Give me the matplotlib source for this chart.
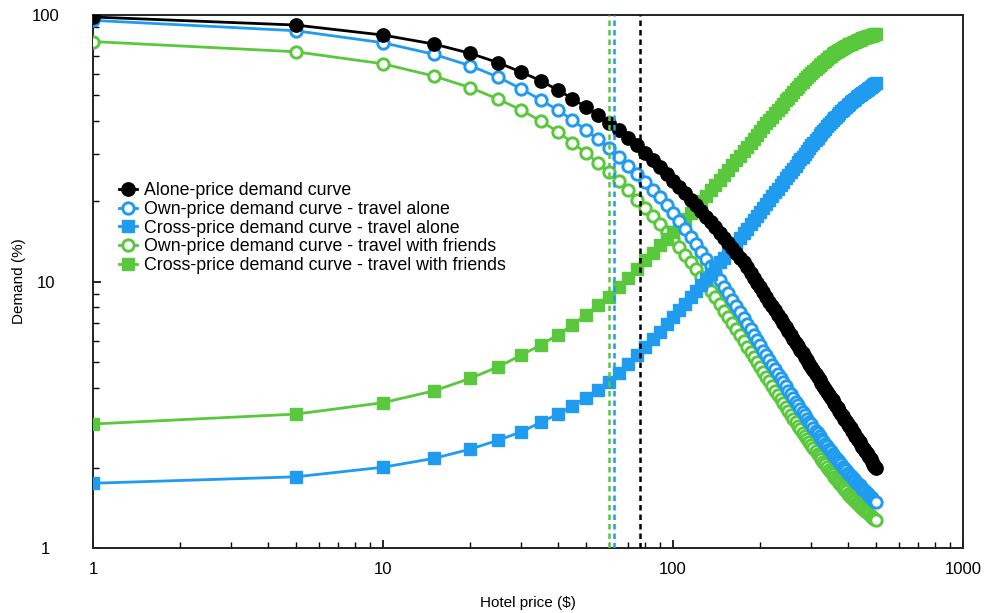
import numpy as np
import matplotlib
matplotlib.use("Agg")
import matplotlib.pyplot as plt

plt.rcParams['font.family'] = ['Liberation Sans', 'DejaVu Sans']

# hotel prices ($): 1, then every 5 up to 500
price = [1] + list(range(5, 505, 5))

alone = [98.3, 91.7, 84.1, 77.8, 71.8, 66.2, 61.0, 56.7, 52.3, 48.6, 45.1, 42.2, 39.3,
         37.0, 34.6, 32.4, 30.4, 28.5, 26.9, 25.3, 23.9, 22.6, 21.4, 20.3, 19.3, 18.4,
         17.5, 16.7, 16.0, 15.2, 14.6, 14.0, 13.4, 12.8, 12.3, 11.8, 11.3, 10.8, 10.3,
         9.91, 9.51, 9.12, 8.76, 8.41, 8.09, 7.79, 7.50, 7.23, 6.98, 6.74, 6.51, 6.30,
         6.09, 5.90, 5.71, 5.54, 5.37, 5.21, 5.06, 4.91, 4.77, 4.64, 4.51, 4.40, 4.28,
         4.17, 4.06, 3.96, 3.86, 3.76, 3.67, 3.59, 3.50, 3.42, 3.34, 3.27, 3.19, 3.12,
         3.06, 2.99, 2.93, 2.87, 2.81, 2.75, 2.70, 2.64, 2.59, 2.54, 2.49, 2.44, 2.40,
         2.35, 2.31, 2.27, 2.23, 2.19, 2.15, 2.11, 2.07, 2.04, 2.00]

own_alone = [95.5, 87.3, 78.7, 71.2, 64.5, 58.4, 52.8, 48.0, 44.0, 40.4, 37.0, 34.3, 31.6,
             29.3, 27.2, 25.4, 23.7, 22.1, 20.7, 19.3, 18.1, 16.8, 15.8, 14.7, 13.8, 12.9,
             12.2, 11.4, 10.8, 10.1, 9.56, 9.04, 8.55, 8.10, 7.69, 7.30, 6.94, 6.61, 6.31,
             6.02, 5.76, 5.51, 5.28, 5.07, 4.86, 4.68, 4.50, 4.34, 4.18, 4.04, 3.90, 3.77,
             3.66, 3.54, 3.44, 3.33, 3.24, 3.15, 3.06, 2.98, 2.91, 2.83, 2.76, 2.70, 2.63,
             2.57, 2.52, 2.46, 2.41, 2.36, 2.31, 2.26, 2.22, 2.18, 2.14, 2.10, 2.06, 2.02,
             1.99, 1.96, 1.92, 1.89, 1.87, 1.84, 1.81, 1.79, 1.76, 1.74, 1.72, 1.69, 1.67,
             1.65, 1.63, 1.61, 1.59, 1.57, 1.56, 1.54, 1.52, 1.50, 1.49]

cross_alone = [1.75, 1.85, 2.01, 2.17, 2.35, 2.54, 2.73, 2.96, 3.18, 3.41, 3.66, 3.92, 4.20,
               4.55, 4.92, 5.30, 5.68, 6.08, 6.49, 6.91, 7.35, 7.80, 8.25, 8.72, 9.20, 9.68,
               10.2, 10.7, 11.2, 11.8, 12.3, 12.9, 13.4, 14.0, 14.6, 15.2, 15.8, 16.4, 17.0,
               17.6, 18.3, 18.9, 19.6, 20.2, 20.9, 21.6, 22.3, 23.0, 23.6, 24.4, 25.1, 25.8,
               26.5, 27.2, 28.0, 28.7, 29.4, 30.2, 30.9, 31.6, 32.4, 33.1, 33.9, 34.6, 35.4,
               36.1, 36.8, 37.5, 38.2, 38.9, 39.7, 40.4, 41.0, 41.6, 42.2, 42.9, 43.5, 44.1,
               44.7, 45.3, 45.9, 46.4, 47.0, 47.5, 48.0, 48.6, 49.1, 49.6, 50.1, 50.7, 51.1,
               51.6, 52.0, 52.5, 52.9, 53.4, 53.8, 54.3, 54.7, 55.2, 55.6]

own_friends = [79.5, 72.8, 65.6, 59.0, 53.4, 48.3, 44.0, 40.0, 36.5, 33.2, 30.4, 27.9, 25.8,
               23.9, 22.0, 20.3, 18.9, 17.6, 16.5, 15.4, 14.5, 13.5, 12.6, 11.8, 11.1, 10.4,
               9.79, 9.23, 8.73, 8.23, 7.78, 7.35, 6.97, 6.61, 6.28, 5.98, 5.70, 5.44, 5.20,
               4.98, 4.77, 4.57, 4.39, 4.22, 4.05, 3.90, 3.76, 3.62, 3.50, 3.38, 3.26, 3.16,
               3.06, 2.96, 2.87, 2.79, 2.71, 2.63, 2.57, 2.50, 2.44, 2.38, 2.32, 2.26, 2.21,
               2.16, 2.11, 2.06, 2.01, 1.97, 1.93, 1.89, 1.85, 1.82, 1.78, 1.75, 1.72, 1.69,
               1.66, 1.63, 1.60, 1.58, 1.56, 1.54, 1.52, 1.50, 1.48, 1.46, 1.44, 1.42, 1.41,
               1.39, 1.38, 1.37, 1.35, 1.34, 1.32, 1.31, 1.30, 1.29, 1.27]

cross_friends = [2.92, 3.18, 3.51, 3.89, 4.33, 4.79, 5.30, 5.78, 6.30, 6.87, 7.49, 8.16, 8.77,
                 9.53, 10.3, 11.1, 12.0, 12.8, 13.7, 14.5, 15.4, 16.3, 17.2, 18.1, 19.1, 20.0,
                 21.0, 22.0, 23.0, 24.1, 25.2, 26.3, 27.4, 28.5, 29.7, 30.8, 32.0, 33.2, 34.4,
                 35.6, 36.8, 38.0, 39.2, 40.4, 41.6, 42.8, 44.1, 45.3, 46.5, 47.8, 49.0, 50.2,
                 51.4, 52.6, 53.8, 55.0, 56.2, 57.3, 58.4, 59.5, 60.6, 61.7, 62.8, 63.9, 64.8,
                 65.7, 66.6, 67.5, 68.5, 69.3, 70.3, 71.1, 71.8, 72.5, 73.2, 73.8, 74.5, 75.2,
                 75.9, 76.5, 77.1, 77.6, 78.0, 78.5, 79.0, 79.5, 79.9, 80.4, 80.8, 81.3, 81.7,
                 82.0, 82.4, 82.7, 83.1, 83.4, 83.7, 84.1, 84.4, 84.7, 85.1]

# optimal prices (vertical dashed lines)
opt_friends = 60
opt_alone = 62.5
opt_single = 77

blue = '#1f9bf0'
green = '#5ac83c'

fig = plt.figure(figsize=(9.85, 6.13), dpi=100)
ax = fig.add_axes([0.0944, 0.106, 0.8833, 0.8695])

lw = 2.0
ax.plot(price, own_friends, '-o', color=green, lw=lw, ms=8.2, mfc='white', mew=2.1,
        label='Own-price demand curve - travel with friends', zorder=3)
ax.plot(price, cross_friends, '-s', color=green, lw=lw, ms=8.3,
        label='Cross-price demand curve - travel with friends', zorder=3)
ax.plot(price, own_alone, '-o', color=blue, lw=lw, ms=8.2, mfc='white', mew=2.1,
        label='Own-price demand curve - travel alone', zorder=4)
ax.plot(price, cross_alone, '-s', color=blue, lw=lw, ms=8.3,
        label='Cross-price demand curve - travel alone', zorder=4)
ax.plot(price, alone, '-o', color='black', lw=lw, ms=9.6,
        label='Alone-price demand curve', zorder=5)

dash = (0, (2.2, 1.6))
ax.axvline(opt_friends, color=green, lw=1.8, ls=dash, zorder=6)
ax.axvline(opt_alone, color=blue, lw=1.8, ls=dash, zorder=6)
ax.axvline(opt_single, color='black', lw=1.8, ls=dash, zorder=6)

ax.set_xscale('log')
ax.set_yscale('log')
ax.set_xlim(1, 1000)
ax.set_ylim(1, 100)
ax.set_xticks([1, 10, 100, 1000])
ax.set_xticklabels(['1', '10', '100', '1000'])
ax.set_yticks([1, 10, 100])
ax.set_yticklabels(['1', '10', '100'])
ax.tick_params(which='both', direction='in', top=False, right=False, labelsize=12)
ax.tick_params(axis='x', which='major', length=6, width=1.2, pad=10)
ax.tick_params(axis='y', which='major', length=6, width=1.2, pad=34)
ax.tick_params(which='minor', length=4, width=1.0)
for lab in ax.get_yticklabels():
    lab.set_horizontalalignment('center')
for s in ax.spines.values():
    s.set_linewidth(1.4)
    s.set_color('#222222')

ax.set_xlabel('Hotel price ($)', fontsize=11, labelpad=14)
ax.set_ylabel('Demand (%)', fontsize=11, labelpad=4)

handles, labels = ax.get_legend_handles_labels()
order = [4, 2, 3, 0, 1]
ax.legend([handles[i] for i in order], [labels[i] for i in order],
          loc='upper left', bbox_to_anchor=(0.022, 0.70), frameon=False,
          fontsize=12.8, handlelength=1.0, handletextpad=0.4, labelspacing=0.1,
          borderaxespad=0)

fig.savefig('out.png', dpi=100)
